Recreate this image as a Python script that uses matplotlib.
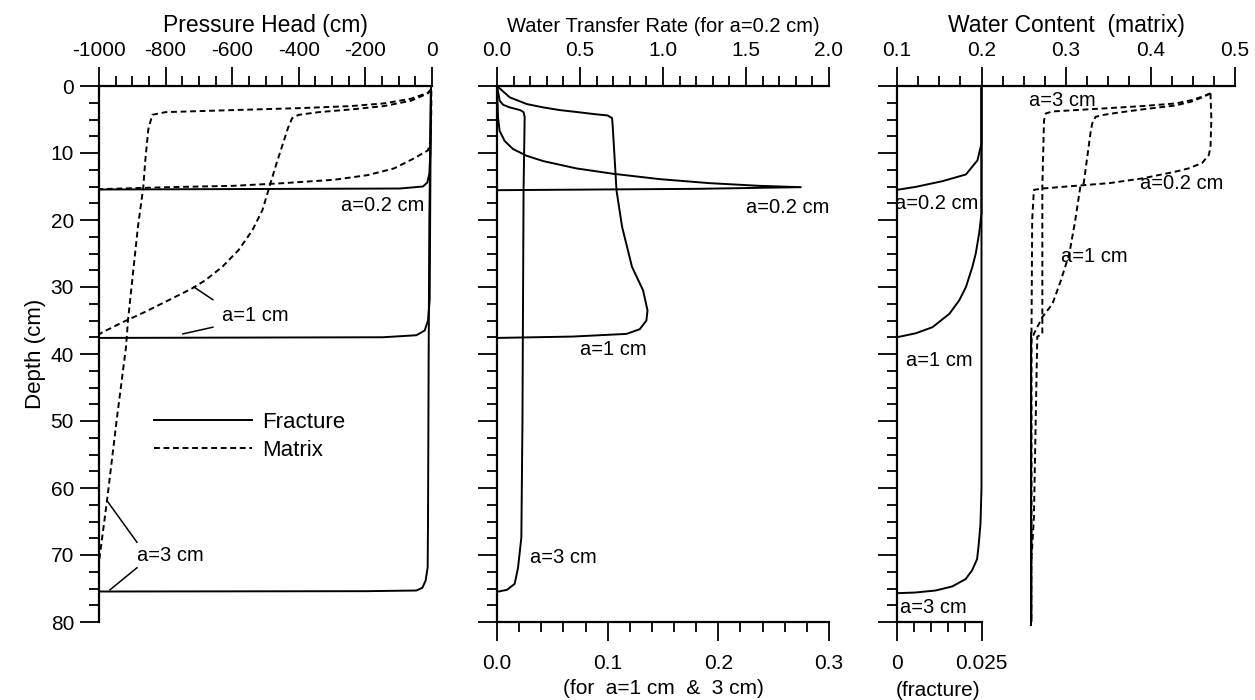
import matplotlib
matplotlib.use('Agg')
import matplotlib.pyplot as plt
from matplotlib.ticker import MultipleLocator, FixedLocator, FormatStrFormatter
from matplotlib.lines import Line2D

plt.rcParams['font.family'] = ['Liberation Sans', 'DejaVu Sans']
plt.rcParams['axes.unicode_minus'] = False

# ---------------- data ----------------
# Panel 1: pressure head (cm) vs depth (cm)
ph_frac02_h = [-3, -4, -5, -8, -14, -27, -97, -1000]
ph_frac02_d = [0, 5, 10, 13.1, 14.4, 15.0, 15.3, 15.45]
ph_frac1_h = [-3, -5, -7, -12, -22, -47, -147, -1000]
ph_frac1_d = [0, 15, 32, 35, 36.5, 37.2, 37.5, 37.6]
ph_frac3_h = [-3, -8, -10, -12, -13, -19, -29, -47, -200, -1000]
ph_frac3_d = [0, 20, 40, 65, 71.8, 73.8, 74.9, 75.3, 75.4, 75.45]

ph_mat02_h = [-2, -2, -3, -5, -12, -54, -114, -193, -295, -446, -596, -795, -1000, -1000]
ph_mat02_d = [0.7, 3, 6, 8.3, 9.6, 10.8, 12.3, 13.3, 14.0, 14.5, 14.9, 15.1, 15.4, 80]
ph_mat1_h = [-3, -12, -63, -145, -244, -340, -400, -420, -432, -464, -485, -509, -539,
             -581, -630, -681, -720, -780, -861, -931, -991, -1000, -1000]
ph_mat1_d = [0.5, 1.1, 2.2, 3.0, 3.5, 3.9, 4.3, 4.8, 6.2, 11.1, 14.5, 18.5, 21.5,
             24.5, 27, 29, 30.2, 31.7, 33.7, 35.3, 36.8, 37.1, 80]
ph_mat3_h = [-3, -12, -63, -145, -244, -395, -600, -800, -840, -852, -861, -867, -883,
             -897, -913, -919, -946, -976, -1000, -1000]
ph_mat3_d = [0.5, 1.0, 1.9, 2.6, 3.0, 3.3, 3.6, 3.9, 4.3, 6.5, 11.1, 15.1, 21, 27.5,
             35, 39, 49.5, 61.9, 71, 80]

# Panel 2: water transfer rate
wt02_r = [0, 0.004, 0.006, 0.016, 0.046, 0.096, 0.177, 0.277, 0.478, 0.70, 0.98, 1.28,
          1.58, 1.83, 1.2, 0, 0]
wt02_d = [0, 3, 4.7, 6.7, 8.2, 9.4, 10.4, 11.2, 12.3, 13.1, 13.9, 14.5, 14.9, 15.1,
          15.35, 15.55, 80]
wt1_r = [0, 0.0116, 0.027, 0.042, 0.057, 0.073, 0.088, 0.100, 0.104, 0.1046, 0.108,
         0.113, 0.122, 0.132, 0.136, 0.135, 0.129, 0.117, 0.068, 0, 0]
wt1_d = [0, 1.7, 2.7, 3.2, 3.6, 3.9, 4.2, 4.4, 4.8, 6.1, 15.6, 21, 27, 30.5, 33.5, 35,
         36.3, 37, 37.4, 37.6, 80]
wt3_r = [0, 0.0025, 0.0055, 0.0116, 0.021, 0.024, 0.025, 0.024, 0.023, 0.022, 0.019,
         0.016, 0.009, 0, 0]
wt3_d = [0, 2.2, 2.8, 3.2, 3.6, 3.9, 4.6, 15.6, 50, 67.4, 71.9, 74.3, 75.2, 75.5, 80]

# Panel 3: water content
wc_frac02_t = [0.025, 0.025, 0.0238, 0.0204, 0.0135, 0.0056, 0]
wc_frac02_d = [0, 8.6, 11.1, 13.2, 14.2, 15.05, 15.5]
wc_frac1_t = [0.025, 0.025, 0.0243, 0.0233, 0.0223, 0.0204, 0.0184, 0.0155, 0.0105,
              0.0056, 0]
wc_frac1_d = [0, 19, 22, 25, 27, 30, 32, 34, 36, 36.9, 37.5]
wc_frac3_t = [0.025, 0.025, 0.0247, 0.0242, 0.0237, 0.0222, 0.0203, 0.0163, 0.0114,
              0.0054, 0]
wc_frac3_d = [0, 60, 65.3, 68.3, 70.6, 72.3, 73.6, 74.7, 75.3, 75.6, 75.7]

wc_mat02_t = [0.471, 0.472, 0.471, 0.469, 0.461, 0.445, 0.429, 0.390, 0.351, 0.311,
              0.272, 0.262, 0.260, 0.259, 0.259]
wc_mat02_d = [1.1, 5, 9.1, 10.3, 11.5, 12.3, 12.8, 13.8, 14.5, 14.9, 15.3, 15.5, 20, 40, 80]
wc_mat1_t = [0.471, 0.461, 0.449, 0.43, 0.39, 0.36, 0.345, 0.335, 0.331, 0.329, 0.321,
             0.317, 0.311, 0.304, 0.294, 0.284, 0.272, 0.268, 0.262, 0.259, 0.259]
wc_mat1_d = [1.1, 1.7, 2.3, 2.9, 3.5, 4.0, 4.3, 4.6, 5.6, 7.0, 14.5, 15.0, 20, 25, 29,
             32.5, 34.5, 35.5, 37, 38, 80]
wc_mat3_t = [0.471, 0.461, 0.449, 0.430, 0.390, 0.351, 0.311, 0.284, 0.276, 0.274, 0.272,
             0.272, 0.266, 0.262, 0.259, 0.259]
wc_mat3_d = [1.1, 1.6, 2.1, 2.6, 3.0, 3.3, 3.6, 3.8, 4.1, 5.1, 15, 37.0, 37.4, 64.4, 71, 80]
wc_init_t = [0.259, 0.259]          # merged (initial) matrix water content
wc_init_d = [36.8, 80.5]

# ---------------- style ----------------
LW = 1.4
DASH = (0, (3.0, 1.9))
SPW = 1.6
TICKW = 1.3
FS_TICK = 15
FS_LAB = 14.5

fig = plt.figure(figsize=(12.55, 7.0), dpi=100)

BOT = 78 / 700
HGT = 536 / 700
ax1 = fig.add_axes([99 / 1255, BOT, 333 / 1255, HGT])
ax2 = fig.add_axes([497 / 1255, BOT, 332 / 1255, HGT])
ax3 = fig.add_axes([897 / 1255, BOT, 338 / 1255, HGT])
ax2b = ax2.twiny()
ax3b = ax3.twiny()


def depth_axis(ax, labels):
    ax.set_ylim(80, 0)
    ax.yaxis.set_major_locator(MultipleLocator(10))
    ax.yaxis.set_minor_locator(MultipleLocator(2.5))
    ax.tick_params(axis='y', which='major', direction='out', length=14, width=TICKW,
                   labelsize=FS_TICK, pad=4, left=True, right=False, labelleft=labels)
    ax.tick_params(axis='y', which='minor', direction='out', length=7, width=TICKW,
                   left=True, right=False)
    for s in ('right', 'bottom'):
        ax.spines[s].set_visible(False)
    for s in ('left', 'top'):
        ax.spines[s].set_linewidth(SPW)


def top_axis(ax, lim, major, minor, fmt):
    ax.set_xlim(*lim)
    ax.xaxis.tick_top()
    ax.xaxis.set_label_position('top')
    ax.xaxis.set_major_locator(MultipleLocator(major))
    ax.xaxis.set_minor_locator(MultipleLocator(minor))
    ax.xaxis.set_major_formatter(FormatStrFormatter(fmt))
    ax.tick_params(axis='x', which='major', direction='out', length=14, width=TICKW,
                   labelsize=FS_TICK, pad=5, top=True, bottom=False,
                   labeltop=True, labelbottom=False)
    ax.tick_params(axis='x', which='minor', direction='out', length=7, width=TICKW,
                   top=True, bottom=False)


def bottom_twin(axb):
    axb.xaxis.set_ticks_position('bottom')
    axb.xaxis.set_label_position('bottom')
    for s in ('top', 'left', 'right'):
        axb.spines[s].set_visible(False)
    axb.spines['bottom'].set_linewidth(SPW)
    axb.tick_params(axis='x', which='major', direction='out', length=14, width=TICKW,
                    labelsize=FS_TICK, pad=9, top=False, bottom=True,
                    labeltop=False, labelbottom=True)
    axb.tick_params(axis='x', which='minor', direction='out', length=7, width=TICKW,
                    top=False, bottom=True)


# ---------------- panel 1 ----------------
depth_axis(ax1, True)
top_axis(ax1, (-1000, 0), 200, 50, '%d')
ax1.set_xlabel('Pressure Head (cm)', fontsize=16.5, labelpad=6.5)
ax1.set_ylabel('Depth (cm)', fontsize=16, labelpad=3)

for h, d in ((ph_frac02_h, ph_frac02_d), (ph_frac1_h, ph_frac1_d), (ph_frac3_h, ph_frac3_d)):
    ax1.plot(h, d, color='black', lw=LW, clip_on=False)
for h, d in ((ph_mat02_h, ph_mat02_d), (ph_mat1_h, ph_mat1_d), (ph_mat3_h, ph_mat3_d)):
    ax1.plot(h, d, color='black', lw=LW, ls=DASH, clip_on=False)

ax1.text(-147, 17.8, 'a=0.2 cm', fontsize=FS_LAB, ha='center', va='center')
ax1.text(-532, 34.2, 'a=1 cm', fontsize=FS_LAB, ha='center', va='center')
ax1.text(-787, 70.1, 'a=3 cm', fontsize=FS_LAB, ha='center', va='center')
leaders = [((-715, 30.0), (-658, 31.9)), ((-748, 37.0), (-658, 36.0)),
           ((-973, 62.1), (-886, 68.1)), ((-967, 75.2), (-886, 71.9))]
for (x0, y0), (x1, y1) in leaders:
    ax1.plot([x0, x1], [y0, y1], color='black', lw=1.1)

handles = [Line2D([], [], color='black', lw=LW),
           Line2D([], [], color='black', lw=LW, ls=DASH)]
ax1.legend(handles, ['Fracture', 'Matrix'], loc='upper left', bbox_to_anchor=(0.165, 0.392),
           frameon=False, fontsize=16, handlelength=4.4, handletextpad=0.45,
           labelspacing=0.3, borderpad=0, borderaxespad=0)

# ---------------- panel 2 ----------------
bottom_twin(ax2b)
ax2b.set_xlim(0, 0.3)
ax2b.xaxis.set_major_locator(MultipleLocator(0.1))
ax2b.xaxis.set_minor_locator(MultipleLocator(0.02))
ax2b.xaxis.set_major_formatter(FormatStrFormatter('%.1f'))
ax2b.set_xlabel('(for  a=1 cm  &  3 cm)', fontsize=FS_TICK, labelpad=4)
depth_axis(ax2, False)
top_axis(ax2, (0, 2.0), 0.5, 0.1, '%.1f')
ax2.set_xlabel('Water Transfer Rate (for a=0.2 cm)', fontsize=14.5, labelpad=6.5)

ax2.plot(wt02_r, wt02_d, color='black', lw=LW, clip_on=False)
ax2b.plot(wt1_r, wt1_d, color='black', lw=LW, clip_on=False)
ax2b.plot(wt3_r, wt3_d, color='black', lw=LW, clip_on=False)
ax2.text(1.75, 18.1, 'a=0.2 cm', fontsize=FS_LAB, ha='center', va='center')
ax2.text(0.70, 39.4, 'a=1 cm', fontsize=FS_LAB, ha='center', va='center')
ax2.text(0.40, 70.4, 'a=3 cm', fontsize=FS_LAB, ha='center', va='center')

# ---------------- panel 3 ----------------
bottom_twin(ax3b)
ax3b.set_xlim(0, 0.1)
ax3b.xaxis.set_major_locator(FixedLocator([0, 0.025]))
ax3b.xaxis.set_minor_locator(FixedLocator([0.005, 0.01, 0.015, 0.02]))
ax3b.set_xticklabels(['0', '0.025'])
ax3b.spines['bottom'].set_bounds(0, 0.025)
ax3b.set_xlabel('(fracture)', fontsize=FS_TICK)
ax3b.xaxis.set_label_coords(0.122, -0.11)
depth_axis(ax3, False)
top_axis(ax3, (0.1, 0.5), 0.1, 0.025, '%.1f')
ax3.set_xlabel('Water Content  (matrix)', fontsize=16.5, labelpad=6.5)

for t, d in ((wc_frac02_t, wc_frac02_d), (wc_frac1_t, wc_frac1_d), (wc_frac3_t, wc_frac3_d)):
    ax3b.plot(t, d, color='black', lw=LW, clip_on=False)
for t, d in ((wc_mat02_t, wc_mat02_d), (wc_mat1_t, wc_mat1_d), (wc_mat3_t, wc_mat3_d)):
    ax3.plot(t, d, color='black', lw=LW, ls=DASH, clip_on=False)
ax3.plot(wc_init_t, wc_init_d, color='black', lw=LW, clip_on=False)

ax3.text(0.296, 2.1, 'a=3 cm', fontsize=FS_LAB, ha='center', va='center')
ax3.text(0.437, 14.5, 'a=0.2 cm', fontsize=FS_LAB, ha='center', va='center')
ax3.text(0.334, 25.5, 'a=1 cm', fontsize=FS_LAB, ha='center', va='center')
ax3.text(0.147, 17.5, 'a=0.2 cm', fontsize=FS_LAB, ha='center', va='center')
ax3.text(0.150, 40.9, 'a=1 cm', fontsize=FS_LAB, ha='center', va='center')
ax3.text(0.143, 77.8, 'a=3 cm', fontsize=FS_LAB, ha='center', va='center')

fig.savefig('out.png', dpi=100)
